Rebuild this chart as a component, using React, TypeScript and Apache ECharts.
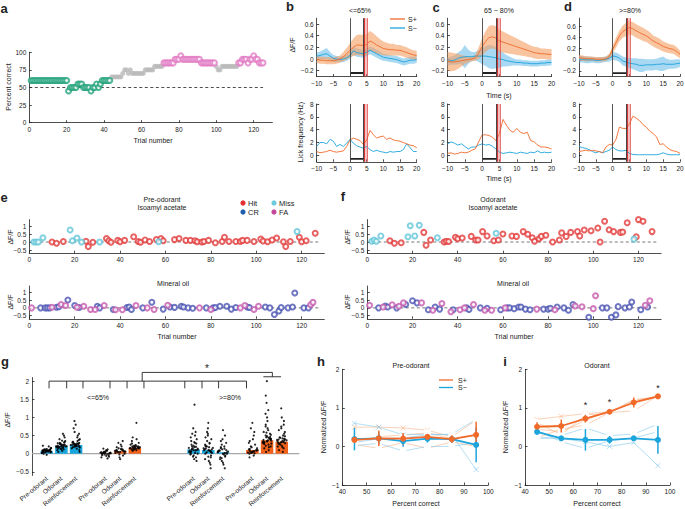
import React, { useEffect, useRef } from 'react';
import * as echarts from 'echarts';

const FONT = '"Liberation Sans", Arial, Helvetica, sans-serif';
const INK = '#222222';
const ORANGE = '#f26a2a';
const BLUE = '#1ca4dc';
const ORANGE_BAND = 'rgba(244,158,96,0.6)';
const BLUE_BAND = 'rgba(96,184,232,0.55)';

// ---------------- panel a ----------------
const percentCorrect = [
  60, 60, 60, 60, 60, 60, 60, 60, 60, 60, 60, 60, 60, 60, 60, 60, 60, 60, 60, 60,
  45, 50, 50, 50, 50, 55, 55, 55, 50, 50, 50, 50, 45, 50, 50, 55, 50, 55, 60, 60,
  60, 60, 60, 65, 65, 65, 65, 65, 65, 70, 75, 75, 70, 75, 70, 70, 70, 70, 70, 70,
  70, 75, 75, 75, 75, 75, 80, 80, 80, 80, 80, 85, 85, 85, 85, 85, 85, 90, 90, 90,
  95, 90, 90, 90, 90, 90, 90, 90, 90, 90, 90, 85, 85, 85, 85, 85, 85, 85, 85, 80,
  75, 75, 80, 80, 80, 80, 80, 80, 80, 80, 80, 85, 85, 90, 90, 90, 85, 90, 90, 95,
  90, 90, 85, 85, 85,
];

// ---------------- panels b-d ----------------
const timeS = [-10, -9, -8, -7, -6, -5, -4, -3, -2, -1, 0, 1, 2, 3, 4, 5, 6, 7, 8, 9, 10, 11, 12, 13, 14, 15, 16, 17, 18, 19, 20];

const dffPlus65 = [-0.01, -0.02, -0.02, -0.03, -0.03, -0.03, -0.02, 0.0, 0.04, 0.09, 0.15, 0.2, 0.24, 0.24, 0.23, 0.25, 0.31, 0.28, 0.24, 0.21, 0.18, 0.17, 0.16, 0.16, 0.15, 0.15, 0.13, 0.11, 0.09, 0.07, 0.06];
const dffPlus65Err = [0.06, 0.06, 0.06, 0.06, 0.06, 0.06, 0.06, 0.06, 0.08, 0.1, 0.12, 0.15, 0.17, 0.18, 0.18, 0.18, 0.17, 0.16, 0.15, 0.13, 0.12, 0.11, 0.1, 0.1, 0.09, 0.09, 0.09, 0.09, 0.08, 0.08, 0.08];
const dffMinus65 = [0.05, 0.06, 0.08, 0.09, 0.05, 0.01, 0.0, -0.01, 0.0, 0.02, 0.06, 0.14, 0.11, 0.1, 0.09, 0.12, 0.15, 0.12, 0.09, 0.06, 0.03, 0.02, 0.01, 0.0, -0.01, -0.03, -0.05, -0.04, -0.02, -0.02, -0.01];
const dffMinus65Err = [0.06, 0.07, 0.08, 0.1, 0.07, 0.06, 0.05, 0.05, 0.05, 0.05, 0.06, 0.07, 0.07, 0.07, 0.07, 0.07, 0.07, 0.07, 0.07, 0.07, 0.06, 0.06, 0.06, 0.06, 0.06, 0.06, 0.06, 0.06, 0.06, 0.06, 0.06];

const dffPlusMid = [-0.04, -0.05, -0.05, -0.04, -0.03, -0.02, -0.01, 0.0, 0.02, 0.1, 0.21, 0.3, 0.37, 0.38, 0.36, 0.31, 0.29, 0.27, 0.25, 0.23, 0.21, 0.19, 0.17, 0.15, 0.13, 0.11, 0.1, 0.09, 0.09, 0.08, 0.08];
const dffPlusMidErr = [0.16, 0.16, 0.15, 0.13, 0.1, 0.07, 0.05, 0.04, 0.05, 0.1, 0.15, 0.18, 0.2, 0.2, 0.2, 0.19, 0.18, 0.17, 0.16, 0.15, 0.14, 0.13, 0.12, 0.11, 0.1, 0.1, 0.1, 0.09, 0.09, 0.09, 0.09];
const dffMinusMid = [-0.04, -0.03, -0.02, 0.01, 0.03, 0.04, 0.04, 0.04, 0.05, 0.05, 0.05, 0.05, 0.04, 0.03, 0.02, 0.0, -0.01, -0.03, -0.04, -0.05, -0.06, -0.06, -0.07, -0.07, -0.08, -0.08, -0.08, -0.07, -0.07, -0.06, -0.06];
const dffMinusMidErr = [0.07, 0.07, 0.08, 0.1, 0.12, 0.2, 0.12, 0.08, 0.07, 0.1, 0.14, 0.17, 0.2, 0.2, 0.18, 0.15, 0.12, 0.1, 0.08, 0.06, 0.05, 0.05, 0.05, 0.05, 0.05, 0.05, 0.05, 0.05, 0.05, 0.05, 0.05];

const dffPlus80 = [0.04, 0.03, 0.02, 0.02, 0.02, 0.01, 0.01, 0.01, 0.02, 0.06, 0.19, 0.31, 0.43, 0.51, 0.55, 0.58, 0.56, 0.52, 0.49, 0.46, 0.43, 0.39, 0.34, 0.31, 0.28, 0.24, 0.22, 0.2, 0.19, 0.15, 0.1];
const dffPlus80Err = [0.05, 0.05, 0.05, 0.04, 0.04, 0.04, 0.04, 0.04, 0.04, 0.05, 0.07, 0.09, 0.1, 0.11, 0.12, 0.12, 0.12, 0.12, 0.12, 0.12, 0.11, 0.11, 0.1, 0.1, 0.1, 0.09, 0.09, 0.08, 0.08, 0.08, 0.07];
const dffMinus80 = [0.01, 0.01, 0.0, 0.0, 0.0, -0.01, -0.01, 0.0, 0.01, 0.03, 0.07, 0.06, 0.03, -0.02, -0.04, -0.06, -0.07, -0.08, -0.1, -0.1, -0.09, -0.09, -0.09, -0.08, -0.08, -0.07, -0.08, -0.08, -0.08, -0.07, -0.06];
const dffMinus80Err = [0.06, 0.06, 0.06, 0.06, 0.05, 0.05, 0.05, 0.05, 0.05, 0.06, 0.07, 0.07, 0.07, 0.08, 0.08, 0.09, 0.1, 0.11, 0.12, 0.12, 0.1, 0.1, 0.1, 0.1, 0.12, 0.13, 0.1, 0.08, 0.08, 0.08, 0.07];

const lickPlus65 = [0.6, 0.4, 0.5, 0.6, 0.8, 0.6, 0.5, 0.6, 0.7, 1.4, 2.4, 2.7, 2.5, 2.3, 1.7, 2.4, 3.9, 3.2, 2.7, 2.9, 3.0, 2.5, 2.7, 2.4, 2.3, 2.2, 2.0, 1.8, 1.6, 1.5, 1.2];
const lickMinus65 = [1.4, 2.0, 2.0, 1.8, 2.5, 2.2, 1.4, 1.7, 1.4, 1.9, 2.5, 1.9, 1.5, 1.3, 1.1, 1.4, 0.9, 0.6, 0.8, 0.6, 0.5, 0.4, 0.6, 0.5, 0.6, 0.6, 0.9, 1.8, 1.2, 0.6, 0.6];
const lickPlusMid = [0.3, 0.4, 0.2, 0.3, 0.5, 0.4, 0.5, 0.8, 1.0, 2.1, 3.2, 3.2, 3.1, 2.8, 2.3, 3.4, 5.6, 4.7, 3.9, 3.6, 4.2, 3.6, 3.4, 3.6, 2.3, 2.1, 1.6, 1.3, 1.3, 1.2, 1.0];
const lickMinusMid = [1.8, 2.1, 1.9, 1.6, 1.8, 1.4, 1.0, 1.3, 1.3, 1.6, 1.8, 1.6, 1.7, 1.4, 1.0, 0.5, 0.3, 0.4, 0.5, 0.4, 0.3, 0.5, 0.4, 0.3, 0.5, 0.4, 0.7, 0.4, 0.5, 0.4, 0.5];
const lickPlus80 = [0.6, 0.7, 0.8, 0.7, 0.8, 0.7, 0.6, 0.4, 1.3, 1.7, 1.6, 2.5, 4.4, 4.2, 4.2, 4.9, 6.1, 5.8, 5.4, 4.8, 4.4, 3.8, 3.4, 2.9, 1.7, 1.8, 1.3, 0.9, 0.7, 0.6, 0.3];
const lickMinus80 = [1.4, 1.2, 1.1, 0.9, 0.6, 0.4, 0.6, 0.4, 0.6, 0.8, 1.3, 0.9, 0.7, 0.7, 0.8, 0.3, 0.15, 0.1, 0.1, 0.1, 0.1, 0.1, 0.1, 0.1, 0.2, 0.4, 0.2, 0.1, 0.1, 0.1, 0.1];

// ---------------- panels e, f ----------------
const ePreHit = [[10, 0], [12, -0.08], [15, 0.03], [25, 0.05], [26, -0.28], [28, -0.02], [34, 0.22], [35, 0.08], [36, -0.02], [39, 0.1], [40, 0.02], [42, 0.1], [46, 0.33], [48, 0.03], [49, -0.02], [51, 0.13], [53, 0.03], [56, 0.15], [58, 0.22], [59, 0.08], [64, 0.15], [66, 0.22], [69, 0.1], [71, 0.1], [73, 0.08], [74, 0.02], [76, 0.0], [77, 0.03], [79, 0.1], [82, -0.05], [85, 0.03], [86, 0.3], [88, 0.03], [91, 0.03], [93, 0.03], [94, 0.1], [96, 0.1], [99, 0.03], [102, 0.18], [103, 0.06], [105, 0.02], [107, 0.12], [109, 0.25], [112, 0.02], [113, -0.28], [115, 0.03], [119, 0.3], [120, 0.02], [122, 0.08], [126, 0.55]];
const ePreMiss = [[2, 0], [3, 0], [4, 0], [6, 0.27], [18, 0.75], [19, 0.08], [21, 0.25], [23, 0], [31, 0], [57, 0.02], [118, 0.65]];
const eOilCR = [[5, 0], [7, 0], [8, 0], [9, 0], [12, 0.04], [13, 0.07], [17, 0.5], [20, 0.15], [22, 0.02], [30, 0.1], [31, 0], [37, -0.1], [43, 0.02], [44, 0.05], [45, -0.1], [50, 0.0], [54, 0.36], [59, -0.08], [62, 0.05], [64, 0.03], [67, 0.1], [68, 0.05], [70, 0.0], [72, -0.03], [78, 0.0], [81, 0], [82, 0.02], [84, 0.1], [87, 0.1], [89, -0.08], [91, 0.02], [96, 0.05], [97, 0.02], [104, 0.05], [106, 0], [108, -0.42], [110, -0.2], [111, 0.02], [114, 0.0], [116, 0.06], [117, 0.95], [121, 0], [123, 0]];
const eOilFA = [[1, 0], [10, 0.04], [14, 0.22], [16, 0.15], [21, 0.04], [24, 0.1], [27, -0.1], [29, -0.1], [33, 0.15], [38, -0.12], [41, -0.12], [47, 0.15], [52, 0.0], [55, -0.1], [61, 0.17], [75, 0.0], [80, -0.1], [93, 0.0], [95, 0.15], [99, -0.1], [101, 0.1], [124, 0.2], [125, 0.35]];

const fOdorHit = [[10, 0.08], [12, -0.08], [15, -0.05], [25, 0.6], [26, -0.2], [28, 0.12], [34, 0], [35, 0.05], [36, 0.03], [39, 0.3], [40, 0.2], [42, 0.25], [46, 0.35], [48, 0.12], [49, 0.12], [51, 0.65], [53, 0.38], [56, 0.08], [58, 0.12], [60, 0.5], [64, 0.38], [66, 0.35], [69, 0.65], [71, 0.48], [73, 0.27], [74, 0.05], [76, 0.2], [77, 0.35], [79, 0.42], [82, 0], [85, 0.12], [86, 0.57], [88, 0.35], [90, 0.6], [93, 0.65], [94, 0.38], [96, 0.75], [99, 0.7], [102, 0.87], [103, 0.0], [105, 1.3], [107, 0.77], [109, 0.65], [112, 0.6], [113, 0.62], [115, 1.2], [119, 0.32], [120, 1.4], [122, 1.3], [126, 0.65]];
const fOdorMiss = [[2, 0.05], [3, 0.12], [4, 0.05], [6, 0.38], [18, 0.33], [19, 1.02], [21, 0.38], [23, 1.05], [31, 0.27], [57, 0.55], [118, 0.18]];
const fOilCR = [[5, 0.0], [8, 0.12], [9, 0.05], [13, 0], [17, 0.22], [20, 0.45], [22, 0.32], [27, -0.12], [30, 0.05], [32, -0.08], [38, -0.12], [44, 0], [45, -0.1], [50, 0], [53, -0.03], [59, -0.12], [62, 0], [63, 0], [65, -0.05], [67, 0.05], [68, 0.05], [70, -0.08], [72, -0.12], [78, -0.08], [80, -0.08], [81, -0.03], [84, 0.05], [87, 0], [89, -0.15], [91, 0.22], [98, -0.6], [104, 0], [106, 0], [108, -0.6], [110, -0.45], [111, 0.08], [114, 0], [116, 0.05], [117, 0.38], [121, -0.12], [124, 0.05]];
const fOilFA = [[1, 0.17], [7, 0.05], [11, 0.2], [14, 0.1], [16, 0.32], [24, 0.32], [29, -0.15], [33, 0.28], [37, -0.25], [41, -0.12], [43, 0], [47, 0.22], [52, -0.15], [55, -0.15], [61, 0], [75, -0.08], [83, -0.12], [92, 0.12], [95, 0.07], [100, -0.05], [101, 0.78], [123, 0.17], [125, 0.45]];

// ---------------- panel g ----------------
const gBarPos = [1, 2, 3, 5, 6, 7, 11, 12, 13, 15, 16, 17];
const gBarLabels = ['Pre-odorant', 'Odorant', 'Reinforcement', 'Pre-odorant', 'Odorant', 'Reinforcement', 'Pre-odorant', 'Odorant', 'Reinforcement', 'Pre-odorant', 'Odorant', 'Reinforcement'];
const gBarValues = [0.07, 0.21, 0.24, 0.01, 0.07, 0.165, 0.12, 0.1, 0.04, 0.1, 0.37, 0.33];
const gBarIsSPlus = [false, false, false, true, true, true, false, false, false, true, true, true];
const gDots = [
  [0.08, 0.05, 0.1, 0.12, 0.06, 0.02, 0.15, 0.09, 0.07, 0.2, 0.11, 0.04, 0.08, 0.13, 0.0, 0.06, 0.1, 0.09, 0.03, 0.16, 0.07, 0.05, 0.08, 0.11, 0.06, 0.09, -0.03, 0.07, 0.12, 0.04, 0.08, 0.22],
  [0.2, 0.15, 0.25, 0.3, 0.18, 0.1, 0.35, 0.22, 0.28, 0.12, 0.4, 0.5, 0.05, 0.24, 0.19, 0.32, 0.27, 0.16, 0.21, 0.45, 0.08, 0.26, 0.23, 0.17, 0.2, 0.29, 0.14, 0.22, 0.31, 0.19, 0.25, 0.18, 0.21, 0.36, 0.13, 0.55],
  [0.22, 0.18, 0.3, 0.25, 0.35, 0.15, 0.4, 0.28, 0.2, 0.5, 0.6, 0.1, 0.9, 0.24, 0.33, 0.19, 0.27, 0.45, 0.7, 0.05, 0.21, 0.26, 0.23, 0.29, 0.17, 0.31, 0.22, 0.25, 0.38, 0.2, 0.27, 0.24, 0.55, 0.14, 0.8, 0.28],
  [0.02, 0.0, -0.05, 0.05, 0.08, -0.1, 0.03, 0.1, -0.02, 0.12, 0.01, -0.08, 0.04, 0.06, -0.04, 0.0, 0.02, -0.01, 0.03, 0.01, -0.06, 0.05, -0.13, 0.14, 0.02],
  [0.05, 0.1, -0.05, 0.15, 0.2, 0.08, 0.0, 0.25, -0.1, 0.12, 0.3, 0.06, 0.18, -0.15, 0.09, 0.07, 0.04, 0.11, 0.02, 0.06, 0.13, -0.02, 0.09, 0.05, 0.35, 0.08],
  [0.15, 0.12, 0.2, 0.18, 0.1, 0.25, 0.3, 0.14, 0.22, 0.4, 0.08, 0.85, 0.16, 0.19, 0.28, 0.17, 0.13, 0.21, 0.15, 0.18, 0.24, 0.11, 0.16, 0.2, 0.14, 0.35, 0.19, 0.45],
  [0.1, 0.0, -0.1, 0.2, 0.3, 0.05, 0.4, -0.15, 0.15, 0.5, 0.25, 0.6, 0.08, -0.05, 0.35, 1.35, 0.12, 0.02, 0.45, -0.2, 0.18, 0.7, 0.1, 0.06, 0.14, -0.02, 0.22, 0.04, 0.28, 0.12, 0.09, 0.16, 0.0, 0.32, -0.08, 0.19, 0.55, 0.11],
  [0.1, 0.0, -0.1, 0.2, 0.3, 0.15, 0.4, -0.2, 0.5, 0.05, 0.6, -0.3, 0.25, 0.85, 0.12, -0.05, 0.35, 0.08, 0.45, -0.4, 0.18, 0.7, 0.06, 0.14, 0.02, 0.1, -0.08, 0.22, 0.12, 0.04, 0.28, -0.15, 0.16, 0.09, 0.55, -0.25, 0.2],
  [0.0, -0.1, 0.1, -0.2, 0.2, 0.05, 0.3, -0.3, 0.4, -0.05, 0.15, 0.5, -0.15, 0.65, 0.08, -0.4, 0.25, 0.02, 0.04, 0.06, -0.02, 0.12, -0.08, 0.18, 0.0, 0.09, -0.25, 0.35, 0.03, -0.12, 0.14, 0.07],
  [0.05, 0.0, 0.1, 0.2, -0.05, 0.3, 0.15, 0.4, 0.02, 0.5, 0.08, 0.6, -0.1, 0.85, 0.12, 0.25, 0.04, 0.07, 0.03, 0.1, 0.06, 0.18, 0.01, 0.13, 0.09, 0.35, 0.05, 0.7],
  [0.35, 0.3, 0.4, 0.5, 0.25, 0.6, 0.2, 0.7, 0.45, 0.1, 0.8, 0.55, 0.15, 1.0, 0.38, 1.2, 0.05, 0.65, 1.6, 0.28, 0.9, 2.0, 0.42, 0.32, 0.36, 0.33, 0.48, 0.27, 0.39, 0.22, 0.44, 0.3, 0.52, 0.37, 0.58, 0.18, 0.75, 0.41, 1.1, 0.34, 0.29, 0.46, 1.4],
  [0.33, 0.3, 0.4, 0.25, 0.5, 0.2, 0.6, 0.35, 0.7, 0.15, 0.45, 0.8, 0.1, 1.0, 0.28, 0.55, 1.25, 0.05, 0.38, 0.9, 0.42, 0.31, 0.36, 0.27, 0.48, 0.34, 0.22, 0.39, 0.29, 0.44, 0.32, 0.65, 0.37, 0.18, 0.75, 0.41],
];
const gJitter = [0, -0.6, 0.6, -0.3, 0.3, -0.85, 0.85, 0.15, -0.15, 0.45, -0.45, 0.7, -0.7];
const gBracketTicks = [1.16, 2.36, 3.47, 5.31, 6.47, 7.62, 10.4, 11.57, 12.7, 14.6];

// ---------------- panels h, i ----------------
const pctCorrect = [45, 55, 65, 75, 85, 95];
const hPlusMean = [0.17, 0.21, 0.2, 0.25, 0.19, 0.3];
const hPlusErr = [0.08, 0.2, 0.15, 0.06, 0.1, 0.34];
const hMinusMean = [0.19, 0.21, 0.14, 0.2, 0.19, 0.04];
const hMinusErr = [0.29, 0.15, 0.15, 0.1, 0.08, 0.45];
const hPlusInd = [
  [0.5, 0.5, 0.48, 0.42, 0.25, 0.68],
  [0.05, -0.05, 0.1, -0.05, 0.12, 0.0],
  [0.15, 0.25, 0.3, 0.35, 0.2, 0.3],
];
const hMinusInd = [
  [0.6, 0.5, 0.3, 0.32, 0.3, -0.6],
  [0.02, 0.08, -0.12, 0.0, 0.0, 0.1],
  [0.1, 0.2, 0.22, 0.3, 0.32, 0.7],
];
const iPlusMean = [0.51, 0.53, 0.72, 0.9, 1.14, 1.3];
const iPlusErr = [0.12, 0.17, 0.1, 0.04, 0.13, 0.05];
const iMinusMean = [0.38, 0.21, 0.17, 0.17, 0.21, 0.17];
const iMinusErr = [0.08, 0.06, 0.28, 0.1, 0.06, 0.36];
const iPlusInd = [
  [0.7, 0.78, 0.85, 0.9, 1.2, 1.3],
  [0.62, 0.3, 0.82, 0.85, 1.22, 1.25],
  [0.22, 0.45, 0.55, 0.88, 0.92, 1.32],
  [0.45, 0.38, 0.68, 0.92, 1.12, 1.28],
];
const iMinusInd = [
  [0.22, 0.2, 0.12, 0.0, 0.1, -0.5],
  [0.42, 0.12, -0.05, 0.15, 0.22, 0.38],
  [0.2, 0.28, 0.48, 0.28, 0.32, 0.58],
];
const iStars = [[65, 1.08], [75, 1.16], [95, 1.52]];

// ------------------------------------------------------------
const fmt = (v: number) => {
  const r = Math.round(v * 100) / 100;
  return r < 0 ? '\u2212' + String(-r) : String(r);
};

const ax = (gi: number, pos: string, min: number, max: number, ticks: number[]) => ({
  type: 'value', gridIndex: gi, position: pos, min, max,
  axisLine: { show: true, onZero: false, lineStyle: { color: INK, width: 0.8 } },
  axisTick: { show: true, inside: true, length: 2.5, customValues: ticks, lineStyle: { color: INK, width: 0.8 } },
  axisLabel: { show: true, customValues: ticks, fontSize: 6.5, color: INK, fontFamily: FONT, margin: 3, formatter: fmt },
  splitLine: { show: false },
});

const gridBox = (left: number, top: number, width: number, height: number) => ({
  left, top, width, height, containLabel: false, outerBoundsMode: 'none',
});

const segSeries = (gi: number, data: number[][], color: string, lw: number, z = 3) => ({
  type: 'custom', xAxisIndex: gi, yAxisIndex: gi, silent: true, z,
  encode: { x: [0, 2], y: [1, 3] },
  data,
  renderItem: (_p: any, api: any) => {
    const a = api.coord([api.value(0), api.value(1)]);
    const b = api.coord([api.value(2), api.value(3)]);
    return { type: 'line', shape: { x1: a[0], y1: a[1], x2: b[0], y2: b[1] }, style: { stroke: color, lineWidth: lw } };
  },
});

const textSeries = (gi: number, data: number[][], text: string, size: number) => ({
  type: 'custom', xAxisIndex: gi, yAxisIndex: gi, silent: true, z: 6,
  data,
  renderItem: (_p: any, api: any) => {
    const p = api.coord([api.value(0), api.value(1)]);
    return { type: 'text', x: p[0], y: p[1], style: { text, fontSize: size, fontFamily: FONT, fill: INK, align: 'center', verticalAlign: 'middle' } };
  },
});

const bandSeries = (gi: number, mean: number[], err: number[], color: string) => ({
  type: 'custom', xAxisIndex: gi, yAxisIndex: gi, silent: true, z: 1,
  data: [[0, 0]],
  renderItem: (_p: any, api: any) => {
    const pts: number[][] = [];
    timeS.forEach((t, i) => pts.push(api.coord([t, mean[i] + err[i]])));
    for (let i = timeS.length - 1; i >= 0; i--) pts.push(api.coord([timeS[i], mean[i] - err[i]]));
    return { type: 'polygon', shape: { points: pts }, style: { fill: color } };
  },
});

const traceLine = (gi: number, vals: number[], color: string, withMarks: boolean) => {
  const s: any = {
    type: 'line', xAxisIndex: gi, yAxisIndex: gi, z: 3,
    data: timeS.map((t, i) => [t, vals[i]]),
    symbol: 'none', showSymbol: false,
    lineStyle: { color, width: 0.9 },
  };
  if (withMarks) {
    s.markLine = {
      silent: true, symbol: ['none', 'none'], label: { show: false },
      data: [
        { xAxis: 0, lineStyle: { color: '#444', width: 0.9, type: 'solid' } },
        { xAxis: 4, lineStyle: { color: '#333', width: 0.9, type: 'solid' } },
        { xAxis: 4.35, lineStyle: { color: '#d42a2a', width: 0.9, type: 'solid' } },
        { xAxis: 5.2, lineStyle: { color: '#e04848', width: 0.7, type: 'solid' } },
      ],
    };
    s.markArea = {
      silent: true,
      itemStyle: { color: 'rgba(236,110,110,0.45)' },
      data: [[{ xAxis: 4.2 }, { xAxis: 5.3 }]],
    };
  }
  return s;
};

const odorBar = (gi: number, y: number) => ({
  type: 'line', xAxisIndex: gi, yAxisIndex: gi, z: 4,
  data: [[0, y], [4, y]], symbol: 'none', lineStyle: { color: INK, width: 1.8 },
});

const scat = (gi: number, data: number[][], color: string) => ({
  type: 'scatter', xAxisIndex: gi, yAxisIndex: gi, z: 3, data,
  symbol: 'emptyCircle', symbolSize: 5,
  itemStyle: { color, borderColor: color, borderWidth: 0.8 },
});

const zeroDash = (gi: number) => ({
  type: 'line', xAxisIndex: gi, yAxisIndex: gi, z: 2,
  data: [[0, 0], [128, 0]], symbol: 'none',
  lineStyle: { color: '#555', width: 0.8, type: [3, 2.5] },
});

const X_SYM = 'path://M0,0L10,10M10,0L0,10';
const IND_SYMS = [X_SYM, 'emptyCircle', 'emptyRect', 'emptyTriangle'];

const perfSeries = (gi: number, plusMean: number[], plusErr: number[], minusMean: number[], minusErr: number[], plusInd: number[][], minusInd: number[][]) => {
  const out: any[] = [];
  const ind = (vals: number[], k: number, color: string) => ({
    type: 'line', xAxisIndex: gi, yAxisIndex: gi, z: 2,
    data: pctCorrect.map((x, i) => [x, vals[i]]),
    symbol: IND_SYMS[k], symbolSize: 5, showSymbol: true,
    lineStyle: { color, width: 0.8 },
    itemStyle: { color: k === 0 ? color : '#ffffff', borderColor: color, borderWidth: 0.8 },
  });
  plusInd.forEach((v, k) => out.push(ind(v, k, 'rgba(246,178,134,0.75)')));
  minusInd.forEach((v, k) => out.push(ind(v, k, 'rgba(130,200,236,0.75)')));
  const mean = (vals: number[], color: string) => ({
    type: 'line', xAxisIndex: gi, yAxisIndex: gi, z: 5,
    data: pctCorrect.map((x, i) => [x, vals[i]]),
    symbol: 'circle', symbolSize: 6, showSymbol: true,
    lineStyle: { color, width: 1.8 }, itemStyle: { color },
  });
  out.push(segSeries(gi, pctCorrect.map((x, i) => [x, minusMean[i] - minusErr[i], x, minusMean[i] + minusErr[i]]), BLUE, 1.5, 4));
  out.push(segSeries(gi, pctCorrect.map((x, i) => [x, plusMean[i] - plusErr[i], x, plusMean[i] + plusErr[i]]), ORANGE, 1.5, 4));
  out.push(mean(minusMean, BLUE));
  out.push(mean(plusMean, ORANGE));
  return out;
};

function buildOption() {
  const grid = [
    gridBox(29.3, 52.3, 243.1, 70.4), // a
    gridBox(316.7, 18.2, 100, 58.3), // b top
    gridBox(447.5, 18.2, 104, 58.3), // c top
    gridBox(579, 18.2, 101, 58.3), // d top
    gridBox(316.7, 104, 100, 57.8), // b bottom
    gridBox(447.5, 104, 104, 57.8), // c bottom
    gridBox(579, 104, 101, 57.8), // d bottom
    gridBox(29.3, 219.6, 295, 33.6), // e top
    gridBox(29.3, 286, 295, 32.8), // e bottom
    gridBox(367.3, 219.6, 293.8, 33.6), // f top
    gridBox(367.3, 286, 293.8, 32.8), // f bottom
    gridBox(32, 377.5, 267.4, 98), // g
    gridBox(342.3, 369.3, 146, 115.7), // h
    gridBox(525, 369.3, 145, 115.7), // i
  ];
  const trialTicks = [0, 20, 40, 60, 80, 100, 120];
  const timeTicks = [-10, -5, 0, 5, 10, 15, 20];
  const pctTicks = [40, 50, 60, 70, 80, 90, 100];
  const gX: any = {
    type: 'value', gridIndex: 11, position: 'bottom', min: 0, max: 18.2,
    axisLine: { show: false }, axisTick: { show: false }, splitLine: { show: false },
    axisLabel: {
      show: true, customValues: gBarPos, rotate: 40, fontSize: 6.5, color: INK, fontFamily: FONT, margin: 2,
      formatter: (v: number) => { const k = gBarPos.indexOf(Math.round(v)); return k >= 0 ? gBarLabels[k] : ''; },
    },
  };
  const xAxis = [
    ax(0, 'bottom', 0, 130, trialTicks),
    ax(1, 'bottom', -10, 20, timeTicks),
    ax(2, 'bottom', -10, 20, timeTicks),
    ax(3, 'bottom', -10, 20, timeTicks),
    ax(4, 'bottom', -10, 20, timeTicks),
    ax(5, 'bottom', -10, 20, timeTicks),
    ax(6, 'bottom', -10, 20, timeTicks),
    ax(7, 'bottom', 0, 130, trialTicks),
    ax(8, 'bottom', 0, 130, trialTicks),
    ax(9, 'bottom', 0, 130, trialTicks),
    ax(10, 'bottom', 0, 130, trialTicks),
    gX,
    ax(12, 'bottom', 40, 100, pctTicks),
    ax(13, 'bottom', 40, 100, pctTicks),
  ];
  const dffTicks = [-0.2, 0, 0.2, 0.4, 0.6];
  const lickTicks = [0, 2, 4, 6, 8];
  const efTicks = [-0.5, 0, 0.5, 1];
  const yAxis = [
    ax(0, 'left', 0, 100, [0, 25, 50, 75, 100]),
    ax(1, 'left', -0.3, 0.7, dffTicks),
    ax(2, 'left', -0.3, 0.7, dffTicks),
    ax(3, 'left', -0.3, 0.75, dffTicks),
    ax(4, 'left', -1, 8, lickTicks),
    ax(5, 'left', -1, 8, lickTicks),
    ax(6, 'left', -1, 8, lickTicks),
    ax(7, 'left', -0.7, 1.4, efTicks),
    ax(8, 'left', -0.7, 1.4, efTicks),
    ax(9, 'left', -0.7, 1.4, efTicks),
    ax(10, 'left', -0.7, 1.4, efTicks),
    ax(11, 'left', -0.6, 2.1, [-0.5, 0, 0.5, 1, 1.5, 2]),
    ax(12, 'left', -1, 2, [-1, 0, 1, 2]),
    ax(13, 'left', -1, 2, [-1, 0, 1, 2]),
  ];

  const series: any[] = [];
  // ---- a ----
  const aPts = percentCorrect.map((v, i) => [i + 1, v]);
  series.push({ type: 'line', xAxisIndex: 0, yAxisIndex: 0, z: 1, data: [[0, 50], [125, 50]], symbol: 'none', lineStyle: { color: INK, width: 0.8, type: [3, 2.5] } });
  series.push({ type: 'scatter', xAxisIndex: 0, yAxisIndex: 0, z: 2, data: aPts.filter((p) => p[1] >= 65 && p[1] <= 80), symbol: 'circle', symbolSize: 5, itemStyle: { color: '#b9b9b9' } });
  series.push({ type: 'scatter', xAxisIndex: 0, yAxisIndex: 0, z: 3, data: aPts.filter((p) => p[1] <= 60), symbol: 'emptyCircle', symbolSize: 5, itemStyle: { color: '#22a37b', borderColor: '#22a37b', borderWidth: 0.9 } });
  series.push({ type: 'scatter', xAxisIndex: 0, yAxisIndex: 0, z: 3, data: aPts.filter((p) => p[1] >= 85), symbol: 'emptyCircle', symbolSize: 5, itemStyle: { color: '#e27cc4', borderColor: '#e27cc4', borderWidth: 0.9 } });

  // ---- b, c, d ----
  const panels = [
    { t: 1, b: 4, p: dffPlus65, pe: dffPlus65Err, m: dffMinus65, me: dffMinus65Err, lp: lickPlus65, lm: lickMinus65 },
    { t: 2, b: 5, p: dffPlusMid, pe: dffPlusMidErr, m: dffMinusMid, me: dffMinusMidErr, lp: lickPlusMid, lm: lickMinusMid },
    { t: 3, b: 6, p: dffPlus80, pe: dffPlus80Err, m: dffMinus80, me: dffMinus80Err, lp: lickPlus80, lm: lickMinus80 },
  ];
  panels.forEach((pn) => {
    series.push(bandSeries(pn.t, pn.m, pn.me, BLUE_BAND));
    series.push(bandSeries(pn.t, pn.p, pn.pe, ORANGE_BAND));
    series.push(traceLine(pn.t, pn.m, BLUE, false));
    series.push(traceLine(pn.t, pn.p, ORANGE, true));
    series.push(odorBar(pn.t, -0.24));
    series.push(traceLine(pn.b, pn.lm, BLUE, false));
    series.push(traceLine(pn.b, pn.lp, ORANGE, true));
    series.push(odorBar(pn.b, -0.55));
  });

  // ---- e, f ----
  [7, 8, 9, 10].forEach((gi) => series.push(zeroDash(gi)));
  series.push(scat(7, ePreHit, '#e23b3b'));
  series.push(scat(7, ePreMiss, '#62c6d8'));
  series.push(scat(8, eOilCR, '#4b55b3'));
  series.push(scat(8, eOilFA, '#c65aae'));
  series.push(scat(9, fOdorHit, '#e23b3b'));
  series.push(scat(9, fOdorMiss, '#62c6d8'));
  series.push(scat(10, fOilCR, '#4b55b3'));
  series.push(scat(10, fOilFA, '#c65aae'));

  // ---- g ----
  series.push({ type: 'line', xAxisIndex: 11, yAxisIndex: 11, z: 1, data: [[0, 0], [18.2, 0]], symbol: 'none', lineStyle: { color: '#a8a8a8', width: 1.2 } });
  series.push({
    type: 'bar', xAxisIndex: 11, yAxisIndex: 11, z: 2, barWidth: 12.5,
    data: gBarPos.map((p, i) => ({ value: [p, gBarValues[i]], itemStyle: { color: gBarIsSPlus[i] ? '#f0621c' : '#18a6dc' } })),
  });
  const dotData: number[][] = [];
  gDots.forEach((vals, bi) => vals.forEach((v, k) => {
    const spread = 0.42 / (1 + 2.5 * Math.abs(v - gBarValues[bi]));
    dotData.push([gBarPos[bi] + gJitter[k % gJitter.length] * spread, v]);
  }));
  series.push({ type: 'scatter', xAxisIndex: 11, yAxisIndex: 11, z: 5, data: dotData, symbol: 'circle', symbolSize: 2.2, itemStyle: { color: '#000', opacity: 0.85 } });
  const brackets: number[][] = [[gBracketTicks[0], 2.0, gBracketTicks[gBracketTicks.length - 1], 2.0]];
  gBracketTicks.forEach((x) => brackets.push([x, 2.0, x, 1.8]));
  brackets.push([7.5, 2.0, 7.5, 2.24]);
  brackets.push([7.5, 2.24, 16.36, 2.24]);
  brackets.push([16.36, 2.24, 16.36, 2.12]);
  brackets.push([15.75, 2.12, 16.95, 2.12]);
  series.push(segSeries(11, brackets, INK, 0.9));
  series.push(textSeries(11, [[11.9, 2.36]], '*', 10));

  // ---- h, i ----
  perfSeries(12, hPlusMean, hPlusErr, hMinusMean, hMinusErr, hPlusInd, hMinusInd).forEach((s) => series.push(s));
  perfSeries(13, iPlusMean, iPlusErr, iMinusMean, iMinusErr, iPlusInd, iMinusInd).forEach((s) => series.push(s));
  series.push(textSeries(13, iStars, '*', 9));

  // ---- graphic texts ----
  const T = (text: string, x: number, y: number, o: any = {}) => ({
    type: 'text', x, y, rotation: o.rot ? Math.PI / 2 : 0, silent: true,
    style: {
      text, fontSize: o.size || 7, fontWeight: o.bold ? 'bold' : 'normal', fontFamily: FONT, fill: INK,
      align: o.align || 'center', verticalAlign: 'middle',
    },
  });
  const L = (x1: number, y: number, x2: number, color: string) => ({ type: 'line', silent: true, shape: { x1, y1: y, x2, y2: y }, style: { stroke: color, lineWidth: 1.3 } });
  const C = (cx: number, cy: number, color: string) => ({ type: 'circle', silent: true, shape: { cx, cy, r: 2.6 }, style: { fill: color } });
  const graphic = [
    T('a', 4, 8, { bold: true, size: 13 }),
    T('b', 290, 6, { bold: true, size: 13 }),
    T('c', 436, 7, { bold: true, size: 13 }),
    T('d', 568, 6, { bold: true, size: 13 }),
    T('e', 4, 197, { bold: true, size: 13 }),
    T('f', 343, 196, { bold: true, size: 13 }),
    T('g', 5, 361, { bold: true, size: 13 }),
    T('h', 321, 361, { bold: true, size: 13 }),
    T('i', 505, 361, { bold: true, size: 13 }),
    T('Percent correct', 8, 87, { rot: true }),
    T('Trial number', 153, 140),
    T('<=65%', 360, 10),
    T('65 \u2212 80%', 499, 10),
    T('>=80%', 630, 10),
    T('\u0394F/F', 292, 45, { rot: true }),
    T('Lick frequency (Hz)', 300, 132, { rot: true }),
    T('Time (s)', 499, 95),
    T('Time (s)', 499, 178),
    L(390, 19, 405, ORANGE), T('S+', 408, 19, { align: 'left' }),
    L(390, 28, 405, BLUE), T('S\u2212', 408, 28, { align: 'left' }),
    T('Pre-odorant', 162, 199),
    T('Isoamyl acetate', 162, 207),
    T('Mineral oil', 173, 283),
    T('\u0394F/F', 10, 237, { rot: true }),
    T('\u0394F/F', 10, 302, { rot: true }),
    T('Trial number', 177, 336),
    C(243, 203, '#e4302f'), T('Hit', 248, 203, { align: 'left', size: 7.5 }),
    C(274, 203, '#6ccbdb'), T('Miss', 279, 203, { align: 'left', size: 7.5 }),
    C(243, 212, '#1f5fae'), T('CR', 248, 212, { align: 'left', size: 7.5 }),
    C(274, 212, '#c4479c'), T('FA', 279, 212, { align: 'left', size: 7.5 }),
    T('Odorant', 493, 199),
    T('Isoamyl acetate', 493, 207),
    T('Mineral oil', 513, 283),
    T('\u0394F/F', 347, 237, { rot: true }),
    T('\u0394F/F', 347, 302, { rot: true }),
    T('Trial number', 514, 336),
    T('\u0394F/F', 7, 420, { rot: true }),
    T('<=65%', 98, 397),
    T('>=80%', 230, 397),
    T('Pre-odorant', 411, 365),
    T('Percent correct', 416, 503),
    T('Normalized \u0394F/F', 323, 427, { rot: true }),
    L(439, 380, 453, ORANGE), T('S+', 458, 380, { align: 'left' }),
    L(439, 387.5, 453, BLUE), T('S\u2212', 458, 387.5, { align: 'left' }),
    T('Odorant', 597, 365),
    T('Percent correct', 597, 503),
    T('Normalized \u0394F/F', 505, 427, { rot: true }),
  ];

  return {
    animation: false,
    backgroundColor: '#ffffff',
    textStyle: { fontFamily: FONT },
    grid, xAxis, yAxis, series, graphic,
  };
}

export default function App() {
  const ref = useRef<HTMLDivElement>(null);
  useEffect(() => {
    const chart = echarts.init(ref.current as HTMLDivElement, null, { renderer: 'svg' });
    chart.setOption(buildOption() as any);
    return () => chart.dispose();
  }, []);
  return <div ref={ref} style={{ position: 'absolute', left: 0, top: 0, width: 685, height: 509, background: '#fff' }} />;
}
